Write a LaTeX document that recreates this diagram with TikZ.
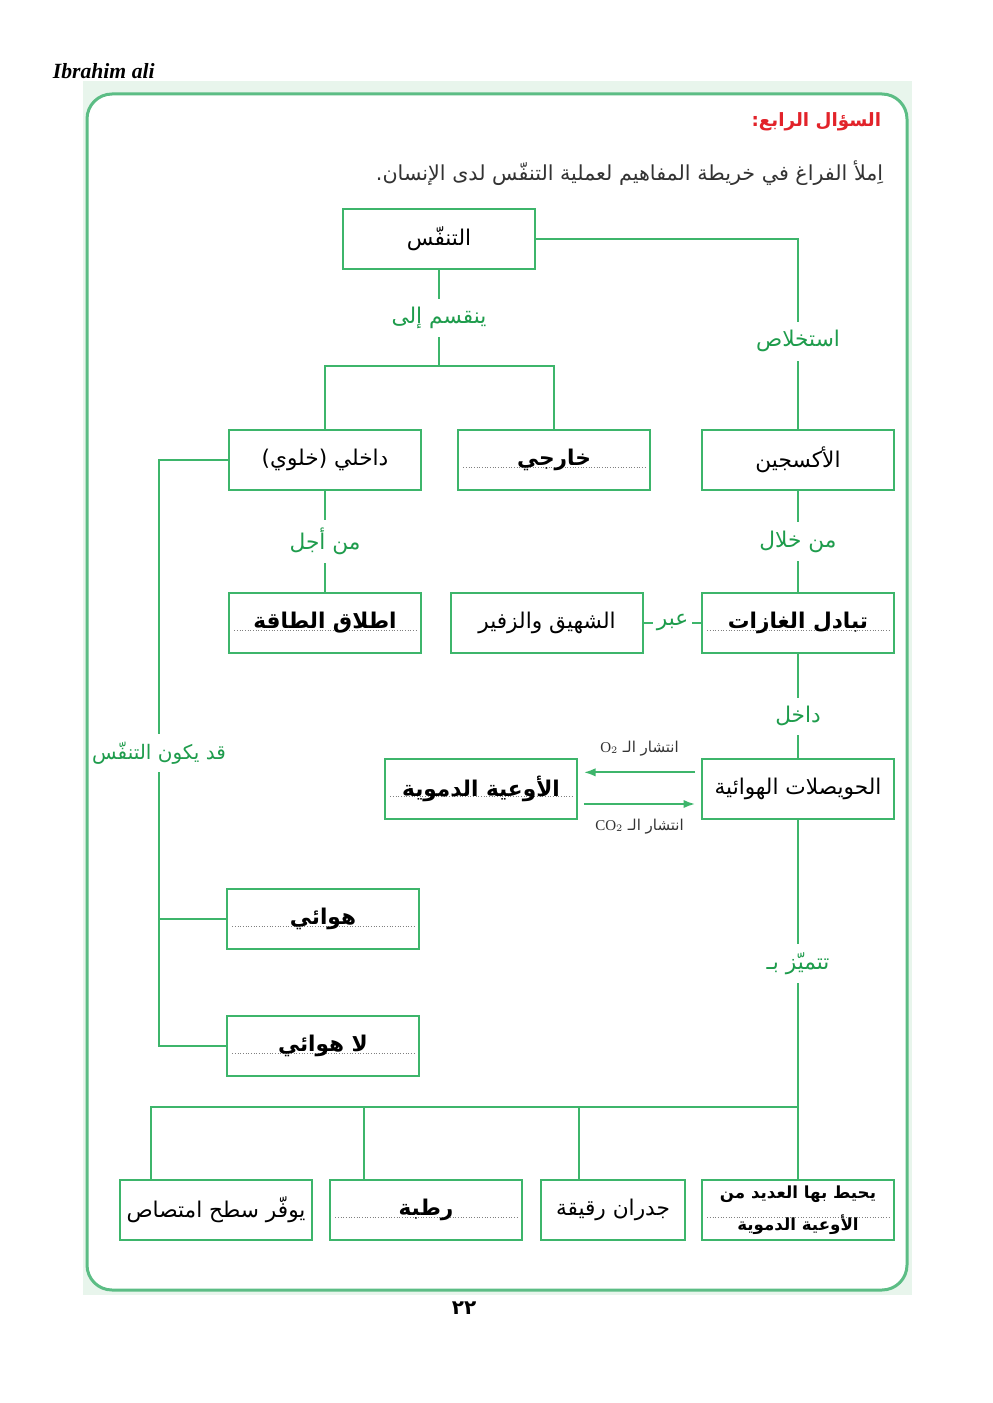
\documentclass[tikz,border=0pt]{standalone}
\usepackage{fontspec}
\setmainfont{Liberation Serif}
\newfontfamily\arabicfont[Script=Arabic]{DejaVu Sans}
\TeXXeTstate=1
\usetikzlibrary{arrows.meta, positioning, calc}
\definecolor{mapgreen}{HTML}{3DB56B}
\definecolor{labgreen}{HTML}{1E9C4C}
\definecolor{framegreen}{HTML}{5CBD85}
\definecolor{bggreen}{HTML}{E8F5EC}
\definecolor{qred}{HTML}{E2232A}
\definecolor{qtextgray}{HTML}{333333}
\newcommand{\artext}[1]{\beginR #1\endR}

\begin{document}
\begin{tikzpicture}[
  x=0.6pt, y=-0.6pt,
  every node/.style={font=\arabicfont\fontsize{13}{16}\selectfont},
  box/.style={rectangle, draw=mapgreen, line width=1.2pt, fill=white, minimum width=115pt, minimum height=36.5pt, inner sep=2pt, align=center},
  answer/.style={box, font=\arabicfont\bfseries\fontsize{13}{16}\selectfont,
    path picture={\draw[gray, densely dotted, line width=0.6pt] ($(path picture bounding box.west)+(5,7)$) -- ($(path picture bounding box.east)+(-5,7)$);}},
  link/.style={draw=mapgreen, line width=1.2pt},
  linklabel/.style={fill=white, text=labgreen, inner xsep=2pt, inner ysep=5pt},
  flow/.style={link, -{Latex[length=7pt,width=5pt]}, shorten <=3.6pt, shorten >=3.6pt},
  flowlabel/.style={font=\arabicfont\fontsize{9}{11}\selectfont, text=qtextgray},
]
\useasboundingbox (0,0) rectangle (992,1403);

% page frame
\fill[bggreen] (83,81) rectangle (912,1295);
\draw[framegreen, line width=1.8pt, fill=white, rounded corners=15pt] (87,94) rectangle (907,1290);

\node[font=\rmfamily\bfseries\itshape\fontsize{13}{15}\selectfont, anchor=west] (author) at (47,71) {Ibrahim ali};

% question
\node[anchor=east, text=qred, font=\arabicfont\bfseries\fontsize{11}{14}\selectfont] (qtitle) at (887,122) {\artext{السؤال الرابع:}};
\node[anchor=east, text=qtextgray, font=\arabicfont\fontsize{12.4}{15}\selectfont] (qtext) at (889,173) {\artext{اِملأ الفراغ في خريطة المفاهيم لعملية التنفّس لدى الإنسان.}};

% concept boxes
\node[box] (breath) at (439,239) {\artext{التنفّس}};
\node[box] (inner) at (325,460) {\artext{داخلي (خلوي)}};
\node[answer] (outer) at (554,460) {\artext{خارجي}};
\node[box] (oxygen) at (798,460) {\artext{الأكسجين}};
\node[answer] (energy) at (325,623) {\artext{اطلاق الطاقة}};
\node[box] (inhale) at (547,623) {\artext{الشهيق والزفير}};
\node[answer] (exchange) at (798,623) {\artext{تبادل الغازات}};
\node[answer] (vessels) at (481,789) {\artext{الأوعية الدموية}};
\node[box] (alveoli) at (798,789) {\artext{الحويصلات الهوائية}};
\node[answer] (aerobic) at (323,919) {\artext{هوائي}};
\node[answer] (anaerobic) at (323,1046) {\artext{لا هوائي}};
\node[box] (surface) at (216,1210) {\artext{يوفّر سطح امتصاص}};
\node[answer] (moist) at (426,1210) {\artext{رطبة}};
\node[box, minimum width=86pt] (walls) at (613,1210) {\artext{جدران رقيقة}};
\node[answer, font=\arabicfont\bfseries\fontsize{10}{19}\selectfont] (capil) at (798,1210) {\artext{يحيط بها العديد من}\\\artext{الأوعية الدموية}};

\node[font=\arabicfont\bfseries\fontsize{12}{14}\selectfont] (pageno) at (464,1308) {\artext{٢٢}};

% connectors
\coordinate (split) at (439,366);
\coordinate (ltop) at (159,460);
\coordinate (lbot) at (159,1046);
\coordinate (bus) at (798,1107);

\draw[link] (breath) -- node[linklabel] {\artext{ينقسم إلى}} (split);
\draw[link] (split) -| (inner.north);
\draw[link] (split) -| (outer.north);
\draw[link] (breath.east) -| node[linklabel, pos=0.77] {\artext{استخلاص}} (oxygen.north);
\draw[link] (inner) -- node[linklabel] {\artext{من أجل}} (energy);
\draw[link] (oxygen) -- node[linklabel] {\artext{من خلال}} (exchange);
\draw[link] (exchange) -- node[linklabel] {\artext{عبر}} (inhale);
\draw[link] (exchange) -- node[linklabel, pos=0.6] {\artext{داخل}} (alveoli);

\draw[flow] ([yshift=10pt]alveoli.west) -- node[flowlabel, above=6pt] {\artext{انتشار الـ \beginL\rmfamily O$_2$\endL}} ([yshift=10pt]vessels.east);
\draw[flow] ([yshift=-9pt]vessels.east) -- node[flowlabel, below=5pt] {\artext{انتشار الـ \beginL\rmfamily CO$_2$\endL}} ([yshift=-9pt]alveoli.west);

\draw[link] (inner.west) -- (ltop) -- node[linklabel, font=\arabicfont\fontsize{12}{15}\selectfont] {\artext{قد يكون التنفّس}} (lbot) -- (anaerobic.west);
\draw[link] (aerobic.west) -- (aerobic.west -| ltop);

\draw[link] (alveoli) -- node[linklabel] {\artext{تتميّز بـ}} (bus);
\draw[link] (bus) -| ($(surface.north west)+(32,0)$);
\draw[link] (bus) -| ($(moist.north west)+(35,0)$);
\draw[link] (bus) -| ($(walls.north west)+(39,0)$);
\draw[link] (bus) -- (capil);

\end{tikzpicture}
\end{document}
